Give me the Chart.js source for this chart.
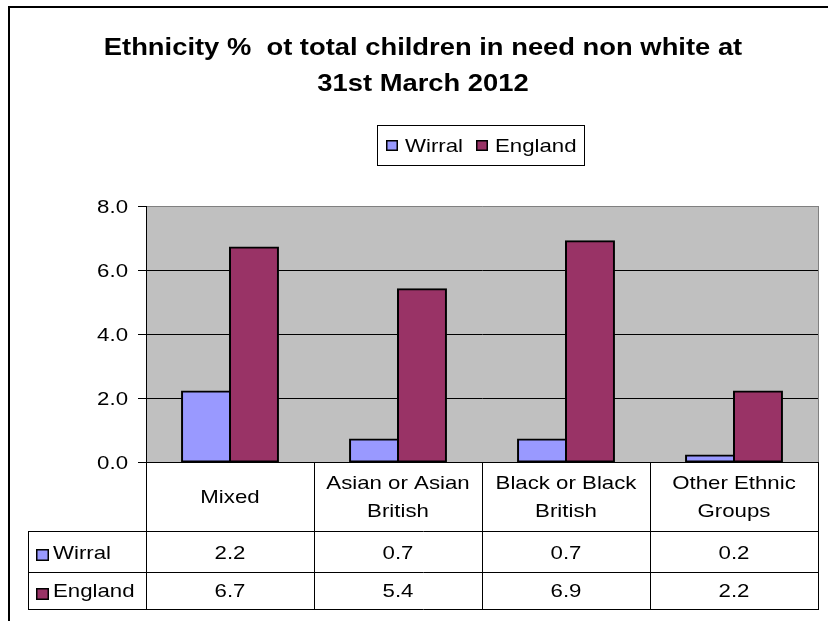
<!DOCTYPE html>
<html>
<head>
<meta charset="utf-8">
<script src="https://cdn.jsdelivr.net/npm/chart.js@4/dist/chart.umd.min.js"></script>
<style>
  html, body { margin: 0; padding: 0; background: #fff; }
  canvas { display: block; }
</style>
</head>
<body>
<canvas id="c" width="828" height="621"></canvas>
<script>
// Chart data
const titleLines = ['Ethnicity %  ot total children in need non white at', '31st March 2012'];
const categories = [['Mixed'], ['Asian or Asian', 'British'], ['Black or Black', 'British'], ['Other Ethnic', 'Groups']];
const seriesNames = ['Wirral', 'England'];
const wirral = [2.2, 0.7, 0.7, 0.2];
const england = [6.7, 5.4, 6.9, 2.2];
const yTickValues = [0, 2, 4, 6, 8];

const seriesColors = ['#9999FF', '#993366'];
const FONT = '"Liberation Sans", Arial, sans-serif';
const SX = 1.17;       // horizontal stretch of the regular text
const TITLE_SX = 1.14; // horizontal stretch of the title

// draw text with a horizontal stretch
function drawText(ctx, s, x, y, align, font, sx) {
  ctx.save();
  ctx.font = font;
  ctx.textBaseline = 'alphabetic';
  ctx.textAlign = 'left';
  const w = ctx.measureText(s).width * sx;
  const x0 = align === 'center' ? x - w / 2 : (align === 'right' ? x - w : x);
  ctx.translate(x0, y);
  ctx.scale(sx, 1);
  ctx.fillStyle = '#000';
  ctx.fillText(s, 0, 0);
  ctx.restore();
}

function marker(ctx, x, y, w, h, color) {
  ctx.save();
  ctx.fillStyle = color;
  ctx.fillRect(x, y, w, h);
  ctx.strokeStyle = '#000';
  ctx.lineWidth = 1.5;
  ctx.strokeRect(x + 0.75, y + 0.75, w - 1.5, h - 1.5);
  ctx.restore();
}

function line(ctx, x1, y1, x2, y2, color, w) {
  ctx.save();
  ctx.strokeStyle = color;
  ctx.lineWidth = w || 1;
  ctx.beginPath();
  ctx.moveTo(x1, y1);
  ctx.lineTo(x2, y2);
  ctx.stroke();
  ctx.restore();
}

const decorations = {
  id: 'decorations',
  beforeDraw(chart) {
    const { ctx, chartArea: a } = chart;
    ctx.save();
    ctx.fillStyle = '#fff';
    ctx.fillRect(0, 0, chart.width, chart.height);
    ctx.fillStyle = '#C0C0C0';
    ctx.fillRect(a.left, a.top, a.right - a.left, a.bottom - a.top);
    ctx.restore();
  },
  afterDraw(chart) {
    const { ctx, chartArea: a } = chart;
    const xs = chart.scales.x, ys = chart.scales.y;

    // plot right border
    line(ctx, a.right + 0.5, a.top, a.right + 0.5, a.bottom, '#808080', 1);

    // outer frame
    ctx.save();
    ctx.strokeStyle = '#000';
    ctx.lineWidth = 2;
    ctx.beginPath();
    ctx.moveTo(9, chart.height + 2);
    ctx.lineTo(9, 7);
    ctx.lineTo(chart.width + 2, 7);
    ctx.stroke();
    ctx.restore();

    // title
    titleLines.forEach((t, i) => {
      drawText(ctx, t, 423, 54.5 + i * 36, 'center', 'bold 24px ' + FONT, TITLE_SX);
    });

    // legend
    ctx.save();
    ctx.strokeStyle = '#000';
    ctx.lineWidth = 1;
    ctx.strokeRect(377.5, 125.5, 207, 40);
    ctx.restore();
    const legX = [[386, 405], [476, 495]];
    seriesNames.forEach((n, i) => {
      marker(ctx, legX[i][0], 140, 12, 11, seriesColors[i]);
      drawText(ctx, n, legX[i][1], 152, 'left', '19px ' + FONT, SX);
    });

    // y tick labels
    yTickValues.forEach(v => {
      const y = ys.getPixelForValue(v);
      drawText(ctx, v.toFixed(1), 128, y + 7, 'right', '19px ' + FONT, SX);
    });

    // data table
    const n = categories.length;
    const centers = categories.map((_, i) => xs.getPixelForValue(i));
    const bounds = [a.left];
    for (let i = 1; i < n; i++) bounds.push((centers[i - 1] + centers[i]) / 2);
    bounds.push(a.right);

    const rowTop = 531, rowMid = 572, rowBot = 609, tableLeft = 28;
    bounds.forEach(b => line(ctx, Math.round(b) + 0.5, a.bottom, Math.round(b) + 0.5, rowBot + 0.5, '#000', 1));
    [rowTop, rowMid, rowBot].forEach(y => line(ctx, tableLeft, y + 0.5, a.right + 1, y + 0.5, '#000', 1));
    line(ctx, tableLeft + 0.5, rowTop, tableLeft + 0.5, rowBot + 1, '#000', 1);

    // category labels
    categories.forEach((lines, i) => {
      if (lines.length === 1) {
        drawText(ctx, lines[0], centers[i], 503, 'center', '19px ' + FONT, SX);
      } else {
        lines.forEach((t, k) => drawText(ctx, t, centers[i], 489 + k * 28, 'center', '19px ' + FONT, SX));
      }
    });

    // series rows
    const rows = [wirral, england];
    const rowBase = [559, 597];
    const rowMark = [549, 588];
    rows.forEach((vals, r) => {
      marker(ctx, 36, rowMark[r], 13, 12, seriesColors[r]);
      drawText(ctx, seriesNames[r], 53, rowBase[r], 'left', '19px ' + FONT, SX);
      vals.forEach((v, i) => drawText(ctx, v.toFixed(1), centers[i], rowBase[r], 'center', '19px ' + FONT, SX));
    });
  }
};

new Chart(document.getElementById('c'), {
  type: 'bar',
  data: {
    labels: categories,
    datasets: [
      { label: seriesNames[0], data: wirral, backgroundColor: seriesColors[0] },
      { label: seriesNames[1], data: england, backgroundColor: seriesColors[1] }
    ].map(d => Object.assign(d, {
      borderColor: '#000',
      borderWidth: 2,
      borderSkipped: false,
      inflateAmount: 1,
      categoryPercentage: 0.571,
      barPercentage: 1.0
    }))
  },
  options: {
    responsive: false,
    animation: false,
    devicePixelRatio: 1,
    layout: { padding: { left: 106, right: 10, top: 206, bottom: 159 } },
    plugins: {
      legend: { display: false },
      title: { display: false },
      tooltip: { enabled: false }
    },
    scales: {
      x: { display: false },
      y: {
        min: 0,
        max: 8,
        ticks: { stepSize: 2, display: false },
        afterFit(scale) { scale.width = 40; },
        grid: {
          color: c => (c.tick && c.tick.value === 8) ? '#808080' : '#000',
          tickColor: '#000',
          tickLength: 8,
          lineWidth: 1
        },
        border: { color: '#000', width: 1 }
      }
    }
  },
  plugins: [decorations]
});
</script>
</body>
</html>
